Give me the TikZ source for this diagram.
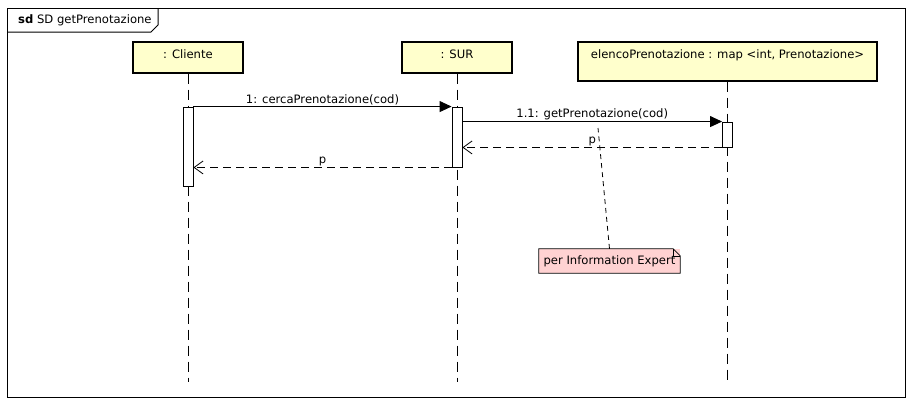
\documentclass[tikz,border=0pt]{standalone}
\usepackage{fontspec}
\setmainfont{DejaVu Sans}
\usetikzlibrary{arrows.meta,positioning}
\definecolor{headyellow}{RGB}{255,255,204}
\definecolor{notepink}{RGB}{255,210,210}

\begin{document}
\begin{tikzpicture}[x=1pt,y=-1pt,every node/.style={font=\fontsize{11.6}{13}\selectfont},
  lifehead/.style={draw,line width=1.6pt,fill=headyellow,anchor=north,inner ysep=6pt,text height=11pt,text depth=8pt},
  lifeline/.style={line width=0.8pt,dash pattern=on 10pt off 6pt},
  actbar/.style={draw,line width=0.9pt,fill=white,minimum width=10pt,inner sep=0pt},
  msg/.style={line width=0.9pt,-{Triangle[length=12pt,width=11pt]}},
  ret/.style={line width=0.8pt,dash pattern=on 8pt off 5pt,-{Straight Barb[length=9pt,width=13pt,line width=0.8pt]}},
  lbl/.style={above,inner sep=1.5pt}]
\useasboundingbox (0,0) rectangle (917,408);
% frame
\draw[line width=1pt] (7,8) rectangle (905,397);
\draw[line width=1pt] (7,32) -- (151,32) -- (158,25) -- (158,8);
\node[anchor=west,inner sep=0pt] (title) at (18,20) {\textbf{sd} SD getPrenotazione};
% lifelines
\node[lifehead,minimum width=110pt] (cliente) at (188,41) {: Cliente};
\node[lifehead,minimum width=110pt] (sur) at (457,41) {: SUR};
\node[lifehead,minimum width=299pt,text depth=16pt] (elenco) at (727.5,41) {elencoPrenotazione : map <int, Prenotazione>};
\coordinate (endC) at (188,382);
\coordinate (endS) at (457,382);
\coordinate (endE) at (727.5,382);
\draw[lifeline] (cliente.south) -- (endC);
\draw[lifeline] (sur.south) -- (endS);
\draw[lifeline] (elenco.south) -- (endE);
% activations
\node[actbar,minimum height=79pt] (actC) at (188,146.5) {};
\node[actbar,minimum height=60pt] (actS) at (457,137) {};
\node[actbar,minimum height=25pt] (actE) at (727.5,134.5) {};
% messages
\draw[msg] (actC.north east) -- node[lbl] {1: cercaPrenotazione(cod)} (actS.north west);
\draw[msg] (actS.east |- actE.north) -- node[lbl] {1.1: getPrenotazione(cod)} (actE.north west);
\draw[ret] (actE.south west) -- node[lbl] {p} (actS.east |- actE.south);
\draw[ret] (actS.south west) -- node[lbl] {p} (actC.east |- actS.south);
% note
\node[fill=notepink,minimum width=141pt,minimum height=24pt,inner sep=2pt] (note) at (609.5,261) {per Information Expert};
\draw[line width=0.8pt] (note.north west) -- ([xshift=-7pt]note.north east) -- ([yshift=-7pt]note.north east)
  -- (note.south east) -- (note.south west) -- cycle;
\draw[line width=0.6pt] ([xshift=-7pt]note.north east) -- ++(0,7) -- ++(7,0);
\coordinate (pin) at (598,128);
\draw[line width=0.8pt,dash pattern=on 5pt off 4pt] (note.north) -- (pin);
\end{tikzpicture}
\end{document}
